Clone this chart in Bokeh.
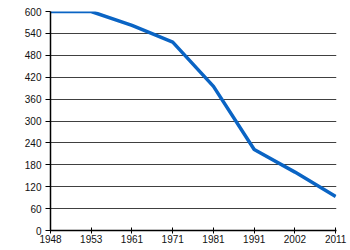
from bokeh.plotting import figure
from bokeh.models import Range1d, FixedTicker
from bokeh.embed import file_html
from bokeh.resources import INLINE

years = ["1948", "1953", "1961", "1971", "1981", "1991", "2002", "2011"]
values = [600, 600, 562, 516, 395, 222, 160, 93]
y_ticks = [0, 60, 120, 180, 240, 300, 360, 420, 480, 540, 600]

xs = list(range(len(years)))

p = figure(width=350, height=250, output_backend="svg", toolbar_location=None,
           x_range=Range1d(0, len(years) - 1 + 0.02), y_range=Range1d(0, 600))
p.min_border_left = 50
p.min_border_right = 14
p.min_border_top = 11
p.min_border_bottom = 20
p.outline_line_color = None
p.background_fill_color = "#ffffff"

p.line(xs, values, line_color="#0a64c4", line_width=3.5)

p.xaxis.ticker = FixedTicker(ticks=xs)
p.xaxis.major_label_overrides = {i: y for i, y in enumerate(years)}
p.yaxis.ticker = FixedTicker(ticks=y_ticks)
for ax in (p.xaxis, p.yaxis):
    ax.axis_line_color = "#000000"
    ax.axis_line_width = 1.5
    ax.major_tick_line_color = "#000000"
    ax.minor_tick_line_color = None
    ax.major_label_text_font = "Liberation Sans"
    ax.major_label_text_font_size = "10px"
    ax.major_label_text_color = "#111111"
p.yaxis.major_tick_out = 5
p.yaxis.major_tick_in = 0
p.yaxis.major_label_standoff = 4
p.xaxis.major_tick_out = 3
p.xaxis.major_tick_in = 3
p.xaxis.major_label_standoff = 1

p.xgrid.grid_line_color = None
p.ygrid.ticker = FixedTicker(ticks=y_ticks)
p.ygrid.grid_line_color = "#404040"
p.ygrid.grid_line_width = 1

open("out.html", "w").write(file_html(p, INLINE))
